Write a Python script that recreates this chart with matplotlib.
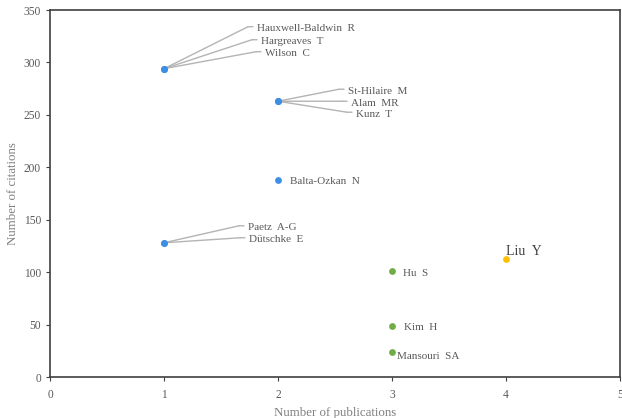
import matplotlib
matplotlib.use("Agg")
import matplotlib.pyplot as plt
from matplotlib.transforms import offset_copy

# Data
authors = ["Hauxwell-Baldwin  R", "Hargreaves  T", "Wilson  C",
           "St-Hilaire  M", "Alam  MR", "Kunz  T",
           "Balta-Ozkan  N", "Paetz  A-G", "Dütschke  E",
           "Hu  S", "Kim  H", "Mansouri  SA", "Liu  Y"]
publications = [1, 1, 1, 2, 2, 2, 2, 1, 1, 3, 3, 3, 4]
citations = [294, 294, 294, 263, 263, 263, 188, 128, 128, 101, 49, 24, 113]
groups = ["blue"] * 9 + ["green"] * 3 + ["orange"]

colors = {"blue": "#3D8FE6", "green": "#70AD47", "orange": "#FFC000"}
# label offsets in pixels (dx, dy), and whether a leader line is drawn
offsets = [(93, 42), (97, 29), (101, 17),
           (70, 12), (73, 0), (78, -11),
           (12, 0), (84, 17), (85, 5),
           (11, 0), (12, 0), (5, -3), (0, 9)]
leaders = [True, True, True, True, True, True, False, True, True,
           False, False, False, False]

plt.rcParams['font.family'] = ['Liberation Serif', 'DejaVu Serif']
fig = plt.figure(figsize=(6.22, 4.18), dpi=100)
W, H = 622, 418
ax = fig.add_axes([50 / W, 1 - 377 / H, 570 / W, 367 / H])

txtcol = "#595959"
for a, x, y, g, (dx, dy), ld in zip(authors, publications, citations, groups, offsets, leaders):
    if ld:
        for (x0, y0, x1, y1) in [(0, 0, dx - 9, dy), (dx - 9, dy, dx - 4, dy)]:
            ax.annotate("", xy=(x, y), xycoords=offset_copy(ax.transData, fig=fig, x=x1, y=y1, units='dots'),
                        xytext=(x, y), textcoords=offset_copy(ax.transData, fig=fig, x=x0, y=y0, units='dots'),
                        arrowprops=dict(arrowstyle='-', color='#B4B4B4', lw=1.0,
                                        shrinkA=0, shrinkB=0))
    big = a.startswith("Liu")
    fs = 10 if big else 8
    ax.text(x, y, a, transform=offset_copy(ax.transData, fig=fig, x=dx, y=dy - 2, units='dots'),
            ha='left', va='center', fontsize=fs, color="#404040" if big else txtcol)

for g in ["blue", "green", "orange"]:
    xs = [x for x, gg in zip(publications, groups) if gg == g]
    ys = [y for y, gg in zip(citations, groups) if gg == g]
    ax.scatter(xs, ys, s=24, color=colors[g], zorder=5, linewidths=0)

ax.set_xlim(0, 5)
ax.set_ylim(0, 350)
ax.set_xticks(range(0, 6))
ax.set_yticks(range(0, 351, 50))
for s in ax.spines.values():
    s.set_color("#404040")
    s.set_linewidth(1.2)
ax.tick_params(axis='both', labelsize=8.3, colors=txtcol, length=3, width=0.8, direction='out')
ax.tick_params(axis='x', pad=6)
ax.tick_params(axis='both', color="#404040")
ax.set_xlabel("Number of publications", fontsize=9.3, color="#7F7F7F", labelpad=4)
ax.set_ylabel("Number of citations", fontsize=9.3, color="#7F7F7F", labelpad=3)

fig.savefig("out.png", dpi=100)
